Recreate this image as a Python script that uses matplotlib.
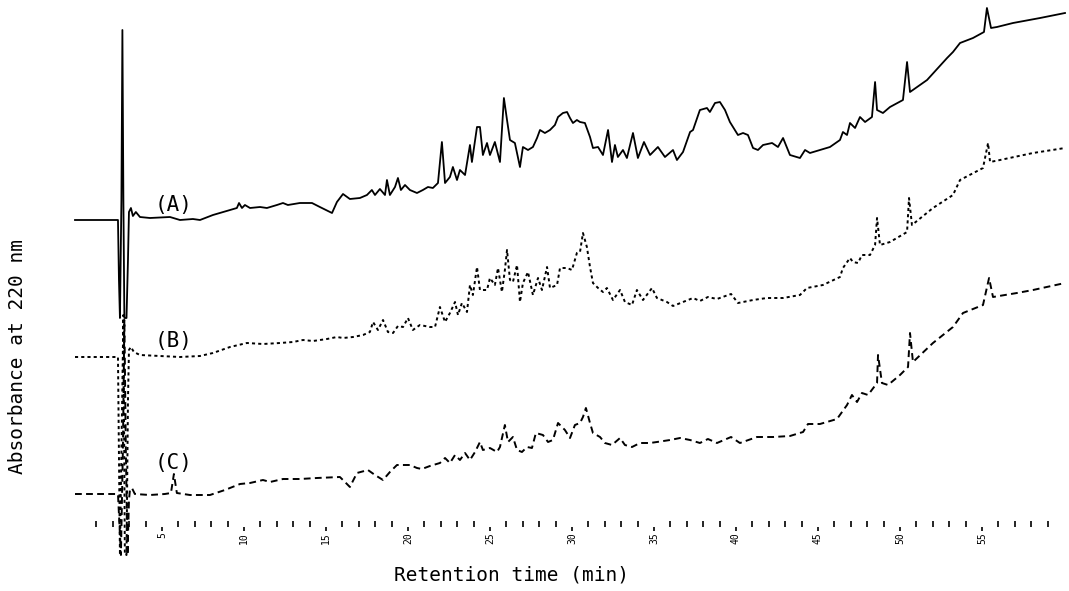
import matplotlib
matplotlib.use("Agg")
import matplotlib.pyplot as plt
import numpy as np

# Retention time (min) and absorbance (arbitrary units, traces stacked as drawn)
time_a = [-0.30, 2.32, 2.38, 2.44, 2.53, 2.59, 2.65, 2.71, 2.84, 2.93, 2.99, 3.11, 3.23, 3.41, 3.66,
          4.27, 5.49, 6.10, 6.89, 7.32, 8.11, 9.15, 9.57, 9.70, 9.88, 10.06, 10.37, 10.98, 11.40,
          12.01, 12.38, 12.68, 13.41, 14.15, 14.63, 15.37, 15.67, 16.04, 16.46, 17.07, 17.50,
          17.80, 17.99, 18.29, 18.60, 18.72, 18.90, 19.21, 19.39, 19.57, 19.82, 20.12, 20.55,
          20.91, 21.22, 21.52, 21.83, 22.07, 22.26, 22.56, 22.74, 22.99, 23.17, 23.48, 23.78,
          23.90, 24.21, 24.39, 24.57, 24.82, 25.00, 25.30, 25.61, 25.85, 26.04, 26.22, 26.52,
          26.83, 27.01, 27.32, 27.62, 27.87, 28.05, 28.35, 28.66, 28.96, 29.15, 29.45, 29.70,
          29.88, 30.06, 30.30, 30.49, 30.79, 31.10, 31.28, 31.59, 31.89, 32.20, 32.44, 32.62,
          32.80, 33.11, 33.35, 33.72, 34.02, 34.39, 34.76, 35.24, 35.67, 36.16, 36.40, 36.77,
          37.20, 37.38, 37.80, 38.23, 38.41, 38.72, 39.02, 39.33, 39.63, 40.12, 40.43, 40.73,
          41.04, 41.34, 41.65, 42.20, 42.56, 42.87, 43.29, 43.90, 44.21, 44.51, 45.73, 46.34,
          46.52, 46.77, 46.95, 47.26, 47.56, 47.87, 48.29, 48.48, 48.60, 48.96, 49.39, 50.18,
          50.43, 50.61, 51.65, 52.87, 53.23, 53.66, 54.45, 55.12, 55.30, 55.55, 55.91, 56.89,
          58.54, 60.06]
abs_a = [3.07, 3.07, 2.47, 2.09, 3.27, 4.97, 3.27, 2.09, 2.09, 2.67, 3.15, 3.19, 3.11, 3.15, 3.10,
         3.09, 3.10, 3.07, 3.08, 3.07, 3.12, 3.17, 3.19, 3.24, 3.19, 3.22, 3.19, 3.20, 3.19,
         3.22, 3.24, 3.22, 3.24, 3.24, 3.20, 3.14, 3.25, 3.33, 3.28, 3.29, 3.32,
         3.37, 3.32, 3.38, 3.32, 3.47, 3.32, 3.40, 3.49, 3.37, 3.42, 3.37, 3.34,
         3.37, 3.40, 3.39, 3.44, 3.85, 3.44, 3.50, 3.60, 3.47, 3.57, 3.52, 3.82,
         3.65, 4.00, 4.00, 3.72, 3.84, 3.72, 3.85, 3.65, 4.29, 4.07, 3.87, 3.84,
         3.60, 3.80, 3.77, 3.80, 3.89, 3.97, 3.94, 3.97, 4.02, 4.10, 4.14, 4.15,
         4.09, 4.04, 4.07, 4.05, 4.04, 3.90, 3.79, 3.80, 3.72, 3.97, 3.65, 3.82,
         3.70, 3.77, 3.69, 3.94, 3.69, 3.85, 3.72, 3.80, 3.70, 3.77, 3.67, 3.75,
         3.95, 3.97, 4.17, 4.19, 4.15, 4.24, 4.25, 4.17, 4.05, 3.92, 3.94, 3.92,
         3.79, 3.77, 3.82, 3.84, 3.80, 3.89, 3.72, 3.69, 3.77, 3.74, 3.80, 3.87,
         3.95, 3.92, 4.04, 3.99, 4.10, 4.05, 4.10, 4.45, 4.17, 4.14, 4.20, 4.27,
         4.65, 4.35, 4.47, 4.69, 4.75, 4.84, 4.89, 4.95, 5.19, 4.99, 5.00, 5.04,
         5.09, 5.14]

time_b = [-0.30, 2.32, 2.44, 2.56, 2.65, 2.74, 2.84, 2.93, 2.99, 3.11, 3.29, 3.66, 4.88, 6.10,
          7.32, 8.11, 9.15, 10.18, 11.16, 12.20, 12.99, 13.60, 14.21, 15.06, 15.67, 16.04,
          16.65, 17.26, 17.68, 17.87, 18.17, 18.48, 18.78, 19.09, 19.39, 19.70, 20.00, 20.30,
          20.73, 21.34, 21.65, 21.95, 22.26, 22.56, 22.87, 23.05, 23.29, 23.60, 23.78, 23.96,
          24.21, 24.39, 24.82, 25.00, 25.30, 25.49, 25.73, 25.91, 26.04, 26.22, 26.40, 26.65,
          26.83, 27.01, 27.32, 27.62, 27.93, 28.17, 28.48, 28.66, 29.09, 29.27, 29.70, 30.00,
          30.30, 30.49, 30.67, 30.91, 31.10, 31.28, 31.59, 31.89, 32.13, 32.50, 32.93, 33.23,
          33.66, 33.96, 34.33, 34.88, 35.18, 35.79, 36.16, 36.77, 37.38, 37.80, 38.29, 38.84,
          39.70, 40.12, 41.04, 41.89, 42.87, 43.90, 44.33, 45.30, 46.34, 46.52, 46.95, 47.13,
          47.44, 47.68, 48.17, 48.48, 48.60, 48.78, 49.39, 50.43, 50.55, 50.73, 52.01, 53.23,
          53.66, 55.06, 55.37, 55.49, 56.10, 58.11, 60.06]
abs_b = [1.70, 1.70, -0.28, 1.07, 2.12, -0.28, -0.28, 1.27, 1.77, 1.80, 1.75, 1.72, 1.71, 1.70,
         1.71, 1.74, 1.80, 1.84, 1.83, 1.84, 1.85, 1.87, 1.86, 1.88, 1.90, 1.89,
         1.90, 1.92, 1.95, 2.05, 1.97, 2.07, 1.95, 1.94, 2.01, 2.00, 2.09, 1.97,
         2.02, 2.00, 2.00, 2.20, 2.05, 2.14, 2.25, 2.12, 2.24, 2.15, 2.42, 2.32,
         2.60, 2.37, 2.37, 2.49, 2.42, 2.59, 2.35, 2.57, 2.77, 2.47, 2.45, 2.62,
         2.25, 2.44, 2.55, 2.32, 2.49, 2.37, 2.60, 2.39, 2.42, 2.59, 2.59, 2.57,
         2.74, 2.75, 2.94, 2.80, 2.60, 2.44, 2.39, 2.35, 2.39, 2.27, 2.37, 2.25,
         2.22, 2.37, 2.27, 2.39, 2.29, 2.25, 2.21, 2.25, 2.29, 2.26, 2.30, 2.28,
         2.33, 2.24, 2.27, 2.29, 2.29, 2.32, 2.39, 2.42, 2.50, 2.59, 2.69, 2.65,
         2.64, 2.72, 2.72, 2.82, 3.09, 2.82, 2.85, 2.95, 3.29, 3.02, 3.19, 3.32,
         3.47, 3.59, 3.84, 3.65, 3.67, 3.74, 3.79]

time_c = [-0.30, 2.32, 2.50, 2.62, 2.71, 2.80, 2.90, 2.99, 3.05, 3.17, 3.35, 4.27, 5.18, 5.55,
          5.73, 5.91, 6.71, 7.93, 8.84, 9.76, 10.37, 11.16, 11.59, 12.38, 13.41, 14.45, 15.85,
          16.16, 16.46, 16.89, 17.56, 17.99, 18.48, 18.90, 19.33, 20.12, 20.55, 20.85, 21.34,
          21.95, 22.26, 22.56, 22.87, 23.17, 23.48, 23.78, 24.09, 24.39, 24.57, 25.00, 25.43,
          25.61, 25.91, 26.10, 26.40, 26.65, 26.95, 27.26, 27.56, 27.80, 28.23, 28.54, 28.84,
          29.15, 29.57, 29.88, 30.18, 30.49, 30.67, 30.85, 31.10, 31.28, 31.71, 32.01, 32.44,
          32.93, 33.23, 33.66, 34.15, 34.76, 35.18, 35.98, 36.59, 37.20, 37.80, 38.29, 38.84,
          39.70, 40.24, 41.28, 42.26, 43.29, 44.09, 44.39, 45.12, 46.16, 46.77, 47.07, 47.38,
          47.68, 48.05, 48.60, 48.66, 48.90, 49.27, 50.00, 50.49, 50.61, 50.79, 52.01, 53.23,
          53.84, 55.06, 55.43, 55.67, 57.13, 58.11, 60.06]
abs_c = [0.33, 0.33, -0.28, 0.77, 2.07, 0.77, -0.28, 0.27, 0.37, 0.39, 0.33, 0.32, 0.33, 0.34,
         0.53, 0.34, 0.32, 0.32, 0.37, 0.43, 0.44, 0.47, 0.45, 0.48, 0.48, 0.49, 0.50,
         0.45, 0.40, 0.54, 0.57, 0.52, 0.47, 0.55, 0.62, 0.62, 0.59, 0.58, 0.61,
         0.64, 0.69, 0.64, 0.72, 0.67, 0.74, 0.67, 0.75, 0.85, 0.77, 0.79, 0.75,
         0.80, 1.02, 0.85, 0.90, 0.77, 0.75, 0.80, 0.79, 0.94, 0.92, 0.85, 0.87,
         1.04, 0.97, 0.89, 1.02, 1.04, 1.10, 1.19, 1.04, 0.94, 0.90, 0.84, 0.82,
         0.89, 0.82, 0.80, 0.84, 0.84, 0.85, 0.87, 0.89, 0.87, 0.84, 0.88, 0.84,
         0.90, 0.84, 0.90, 0.90, 0.91, 0.95, 1.03, 1.03, 1.08, 1.22, 1.32, 1.25,
         1.34, 1.32, 1.44, 1.72, 1.44, 1.42, 1.52, 1.60, 1.94, 1.65, 1.84, 2.00,
         2.14, 2.22, 2.49, 2.30, 2.34, 2.37, 2.44]

trace_labels = ["(A)", "(B)", "(C)"]
label_time = 5.7
label_abs = [3.22, 1.86, 0.64]

major_ticks = [5, 10, 15, 20, 25, 30, 35, 40, 45, 50, 55]
minor_ticks = [m for m in range(1, 60) if m % 5 != 0]

mono = "DejaVu Sans Mono"

fig = plt.figure(figsize=(10.69, 5.91), dpi=100)
ax = fig.add_axes([75 / 1069, 64 / 591, 990 / 1069, 527 / 591])

ax.plot(time_a, abs_a, color="black", lw=1.3, ls="-", clip_on=False)
ax.plot(time_b, abs_b, color="black", lw=1.4, ls=(0, (1.6, 1.6)), clip_on=False)
ax.plot(time_c, abs_c, color="black", lw=1.4, ls=(0, (3.5, 2.2)), clip_on=False)

for lab, yv in zip(trace_labels, label_abs):
    ax.text(label_time, yv, lab, fontsize=15, family=mono, ha="center", va="center")

ax.set_xlim(-0.30, 60.06)
ax.set_ylim(0, 5.27)
for s in ax.spines.values():
    s.set_visible(False)

ax.set_yticks([])
ax.set_xticks(major_ticks)
ax.set_xticklabels([str(v) for v in major_ticks], rotation=90, family=mono, fontsize=7)
ax.set_xticks(minor_ticks, minor=True)
ax.tick_params(axis="x", which="minor", direction="in", length=4.3, width=1.2, color="black")
ax.tick_params(axis="x", which="major", direction="out", length=3, width=1.2, pad=1, color="black")

fig.text(511 / 1069, 1 - 575 / 591, "Retention time (min)", family=mono, fontsize=14,
         ha="center", va="center")
fig.text(18 / 1069, 1 - 357 / 591, "Absorbance at 220 nm", family=mono, fontsize=14,
         ha="center", va="center", rotation=90)

fig.savefig("out.png", dpi=100)
